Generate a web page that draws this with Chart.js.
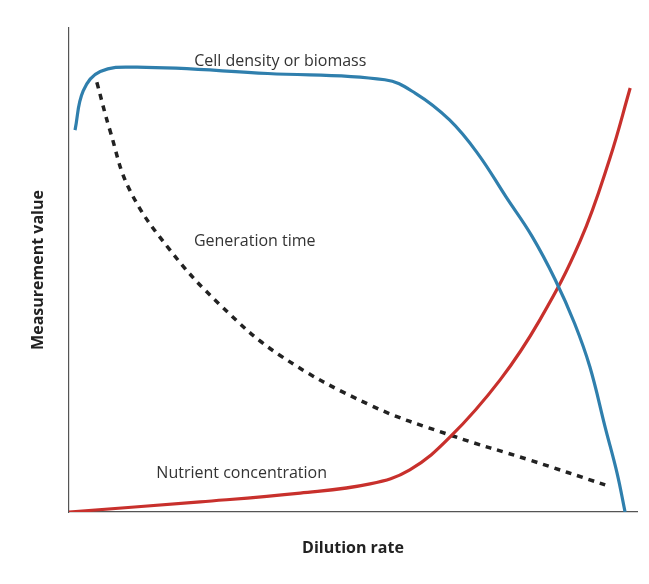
<!DOCTYPE html>
<html><head><meta charset="utf-8">
<script src="https://cdn.jsdelivr.net/npm/chart.js@4"></script>
<style>html,body{margin:0;padding:0;background:#fff}#wrap{width:649px;height:584px}</style>
</head><body><div id="wrap"><canvas id="c" width="649" height="584"></canvas></div>
<script>
const biomassX=[1.06,2.5,5.5,12.0,35,55.6,61,67,72,77,81.5,85.6,89,91.7,94.4,96.5,97.9];
const biomassY=[78.9,87,91,91.9,90.6,89.3,86.5,81,74,65,57,48,39,30,17.5,8,0];
const nutrientX=[0,23.1,40.7,53,60,67.1,75.9,82.9,90,95.2,98.8];
const nutrientY=[0,2.1,3.9,5.8,8.7,15.5,27.3,39.7,56,73,87.6];
const genX=[4.9,7.2,10.7,17.8,26.6,37.1,53,67.1,81.2,94.4];
const genY=[88.8,78.9,66.5,54.1,42.8,32.4,22.1,15.9,10.7,5.6];
const labels=[{t:"Cell density or biomass",x:37.2,y:93.0},{t:"Generation time",x:32.7,y:55.8},{t:"Nutrient concentration",x:30.4,y:8.0}];
const pts=(xs,ys)=>xs.map((x,i)=>({x,y:ys[i]}));
const font='"Open Sans", sans-serif';
const textPlugin={id:'txt',afterDraw(ch){const c=ch.ctx,sx=ch.scales.x,sy=ch.scales.y;c.save();
c.fillStyle='#333';c.font='16px '+font;c.textAlign='center';c.textBaseline='middle';
labels.forEach(l=>c.fillText(l.t,sx.getPixelForValue(l.x),sy.getPixelForValue(l.y)));
c.fillStyle='#222';c.font='bold 16px '+font;
c.fillText('Dilution rate',(sx.left+sx.right)/2,548);
c.translate(38,(sy.top+sy.bottom)/2);c.rotate(-Math.PI/2);c.fillText('Measurement value',0,0);
c.restore();}};
new Chart(document.getElementById('c'),{type:'line',
data:{datasets:[
{data:pts(biomassX,biomassY),borderColor:'#2f7fad',borderWidth:3.2,tension:0.4,pointRadius:0},
{data:pts(nutrientX,nutrientY),borderColor:'#c8302c',borderWidth:3.2,tension:0.4,pointRadius:0},
{data:pts(genX,genY),borderColor:'#222',borderWidth:3.5,borderDash:[6,6],tension:0.4,pointRadius:0}]},
options:{responsive:false,animation:false,layout:{padding:{left:69,top:28,right:12,bottom:72}},
plugins:{legend:{display:false},tooltip:{enabled:false}},
scales:{x:{type:'linear',min:0,max:100,ticks:{display:false},grid:{display:false,drawTicks:false},border:{color:'#555',width:1.2}},
y:{min:0,max:100,ticks:{display:false},grid:{display:false,drawTicks:false},border:{color:'#555',width:1.2}}}},
plugins:[textPlugin]});
</script></body></html>
